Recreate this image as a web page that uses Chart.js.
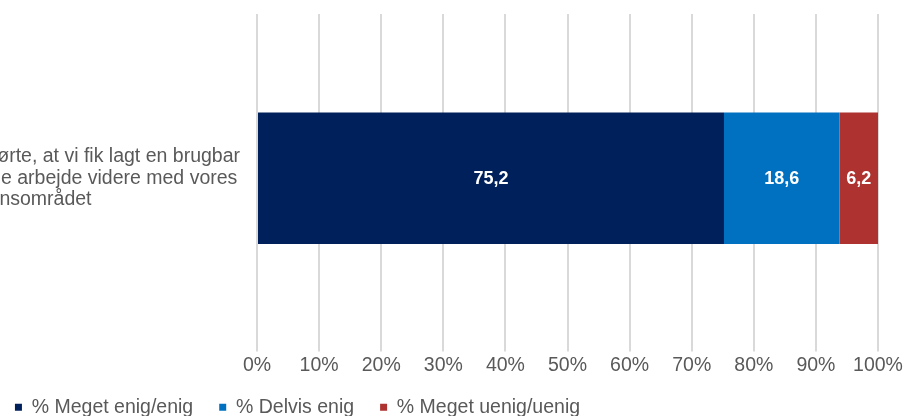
<!DOCTYPE html>
<html>
<head>
<meta charset="utf-8">
<script src="https://cdn.jsdelivr.net/npm/chart.js@4"></script>
<style>
  html, body { margin: 0; padding: 0; background: #fff; overflow: hidden; }
  #wrap { position: absolute; left: -283px; top: 0; width: 1190px; height: 427px; }
</style>
</head>
<body>
<div id="wrap"><canvas id="survey-chart"></canvas></div>
<script>
var categories = [[
  "Deltagelsen i forløbene førte, at vi fik lagt en brugbar",
  "plan for, hvordan vi kunne arbejde videre med vores",
  "inklusionsområdet"
]];
var seriesNames = ["% Meget enig/enig", "% Delvis enig", "% Meget uenig/uenig"];
var enigValues = [75.2];
var delvisValues = [18.6];
var uenigValues = [6.2];
var barColors = ["#00205B", "#0070C0", "#AE3330"];

var fontFamily = "'Liberation Sans', Arial, Helvetica, sans-serif";
var textGray = "#595959";

// writes each segment's value in the middle of the segment
var segmentLabels = {
  id: "segmentLabels",
  afterDatasetsDraw: function (chart) {
    var ctx = chart.ctx;
    ctx.save();
    ctx.font = "bold 18px " + fontFamily;
    ctx.fillStyle = "#ffffff";
    ctx.textAlign = "center";
    ctx.textBaseline = "middle";
    chart.data.datasets.forEach(function (ds, i) {
      chart.getDatasetMeta(i).data.forEach(function (bar, j) {
        var txt = String(ds.data[j]).replace(".", ",");
        ctx.fillText(txt, (bar.x + bar.base) / 2, bar.y + 1);
      });
    });
    ctx.restore();
  }
};

new Chart("survey-chart", {
  type: "bar",
  data: {
    labels: categories,
    datasets: [
      { label: seriesNames[0], data: enigValues, backgroundColor: barColors[0] },
      { label: seriesNames[1], data: delvisValues, backgroundColor: barColors[1] },
      { label: seriesNames[2], data: uenigValues, backgroundColor: barColors[2] }
    ]
  },
  options: {
    indexAxis: "y",
    responsive: true,
    maintainAspectRatio: false,
    animation: false,
    barPercentage: 0.4,
    categoryPercentage: 1,
    layout: { padding: { top: 14, right: 29, left: 0, bottom: 0 } },
    scales: {
      x: {
        stacked: true,
        min: 0,
        max: 100,
        afterFit: function (scale) { scale.height = 29; },
        grid: { color: "#d9d9d9", lineWidth: 2, drawTicks: true, tickLength: 9 },
        border: { display: false },
        ticks: {
          stepSize: 10,
          padding: 2,
          color: textGray,
          font: { family: fontFamily, size: 19.5 },
          callback: function (v) { return v + "%"; }
        }
      },
      y: {
        stacked: true,
        afterFit: function (scale) {
          scale.width = 540;
          scale.paddingTop = 0;
          scale.paddingBottom = 0;
        },
        grid: { display: false, drawTicks: false },
        border: { display: false },
        ticks: {
          crossAlign: "center",
          padding: 17,
          color: textGray,
          font: { family: fontFamily, size: 19.5, lineHeight: 1.12 }
        }
      }
    },
    plugins: {
      legend: {
        position: "bottom",
        labels: {
          boxWidth: 7,
          boxHeight: 7,
          padding: 26,
          color: textGray,
          font: { family: fontFamily, size: 19.5 }
        }
      },
      tooltip: { enabled: false }
    }
  },
  plugins: [segmentLabels]
});
</script>
</body>
</html>
